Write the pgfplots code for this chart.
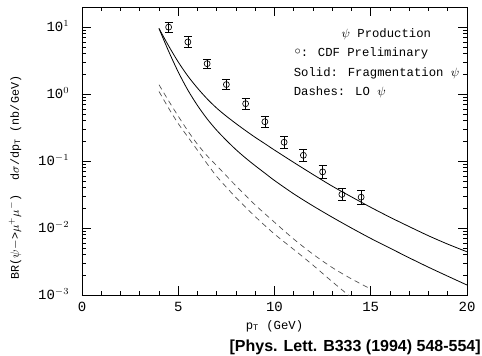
\documentclass[border=0pt]{standalone}
\usepackage{fontspec}
\setmainfont{Liberation Mono}
\newfontfamily\citefont{Liberation Sans}
\usepackage{pgfplots}
\usepackage{pgfplotstable}
\pgfplotsset{compat=1.18}

\pgfplotstableread{
x     y       ep      em
4.5   10.0    1.88    1.58
5.5   6.0     1.18    0.99
6.5   2.85    0.51    0.44
7.5   1.39    0.261   0.220
8.5   0.72    0.144   0.120
9.5   0.387   0.077   0.064
10.5  0.191   0.0424  0.0347
11.5  0.122   0.0292  0.0236
12.5  0.069   0.0167  0.0134
13.5  0.0318  0.0069  0.00565
14.5  0.0289  0.0075  0.00595
}\cdfdata

\pgfplotstableread{
x   y
4   9.55
4.5 5.25
5   3.02
5.5 1.86
6   1.23
6.5 0.851
7   0.617
7.5 0.468
8   0.363
8.5 0.285
9   0.226
9.5 0.182
10  0.146
11  0.0955
12  0.0631
13  0.0422
14  0.0292
15  0.0204
16  0.0145
17  0.0105
18  0.00767
19  0.00575
20  0.00442
}\fragupper

\pgfplotstableread{
x   y
4   9.55
4.5 4.37
5   2.14
5.5 1.148
6   0.676
6.5 0.427
7   0.288
7.5 0.204
8   0.148
8.5 0.111
9   0.0851
9.5 0.0661
10  0.0513
11  0.0324
12  0.0214
13  0.0145
14  0.0100
15  0.0070
16  0.00501
17  0.00359
18  0.0026
19  0.00191
20  0.00141
}\fraglower

\pgfplotstableread{
x   y
4   1.38
4.5 0.794
5   0.468
5.5 0.282
6   0.178
6.5 0.120
7   0.0851
7.5 0.0603
8   0.0427
9   0.0221
10  0.0122
11  0.00684
12  0.00407
13  0.00257
14  0.00174
15  0.00123
}\loupper

\pgfplotstableread{
x   y
4   1.096
4.5 0.617
5   0.363
5.5 0.229
6   0.145
6.5 0.0912
7   0.0589
7.5 0.0407
8   0.0285
9   0.0148
10  0.00813
11  0.00479
12  0.00279
13  0.00158
14  0.000912
}\lolower

\begin{document}
\begin{tikzpicture}
\begin{axis}[
  name=ax,
  scale only axis, width=288.75pt, height=216pt,
  xmin=0, xmax=20, ymin=1e-3, ymax=20,
  ymode=log,
  font=\fontsize{9.2pt}{11pt}\selectfont,
  xtick={0,5,10,15,20}, xticklabels={0,5,10,15,20},
  minor x tick num=4,
  ytick={1e-3,1e-2,1e-1,1,10},
  yticklabels={10$^{-3}$,10$^{-2}$,10$^{-1}$,10$^{0}$,10$^{1}$},
  tick align=inside,
  major tick length=7pt, minor tick length=3pt,
  axis line style={line width=0.6pt},
  every tick/.style={black, line width=0.5pt},
  tick label style={font=\fontsize{10.5pt}{12pt}\selectfont},
  xticklabel style={yshift=-2pt},
  yticklabel style={anchor=base east, yshift=-3.5pt, xshift=-6pt},
  xlabel={p\textsubscript{T} (GeV)},
  ylabel={BR($\psi$$-$>$\mu^{+}\mu^{-}$)\ \ d$\sigma$/dp\textsubscript{T} (nb/GeV)},
  xlabel style={at={(axis description cs:0.5,-0.108)}, anchor=center},
  ylabel style={at={(axis description cs:-0.174,0.408)}, anchor=center, font=\fontsize{8.8pt}{10pt}\selectfont},
]
\addplot[black, line width=0.6pt, smooth] table[x=x,y=y]{\fragupper};
\addplot[black, line width=0.6pt, smooth] table[x=x,y=y]{\fraglower};
\addplot[black!70, line width=0.5pt, smooth, dash pattern=on 4pt off 3pt] table[x=x,y=y]{\loupper};
\addplot[black!70, line width=0.5pt, smooth, dash pattern=on 4pt off 3pt] table[x=x,y=y]{\lolower};
\addplot[black, only marks, mark=o, mark size=2.25pt, mark options={line width=0.5pt},
  error bars/.cd, y dir=both, y explicit,
  error bar style={line width=0.5pt, black},
  error mark options={rotate=90, mark size=3pt, line width=0.5pt, black}]
  table[x=x, y=y, y error plus=ep, y error minus=em]{\cdfdata};
\node[anchor=base west] at (rel axis cs:0.662,0.894) {$\psi$ Production};
\node[anchor=base west] at (rel axis cs:0.540,0.828) {\raisebox{0.25ex}{$\circ$}: CDF Preliminary};
\node[anchor=base west] at (rel axis cs:0.538,0.760) {Solid: Fragmentation $\psi$};
\node[anchor=base west] at (rel axis cs:0.538,0.693) {Dashes: LO $\psi$};
\end{axis}
\node[anchor=east, inner sep=0pt, font=\citefont\bfseries\fontsize{12pt}{14pt}\selectfont]
  at ([xshift=10.5pt, yshift=-39pt]ax.south east) {[Phys. Lett. B333 (1994) 548-554]};
\pgfresetboundingbox
\path[use as bounding box] ([xshift=-61.5pt,yshift=-45pt]ax.south west) rectangle ([xshift=11.25pt,yshift=5.25pt]ax.north east);
\end{tikzpicture}
\end{document}
